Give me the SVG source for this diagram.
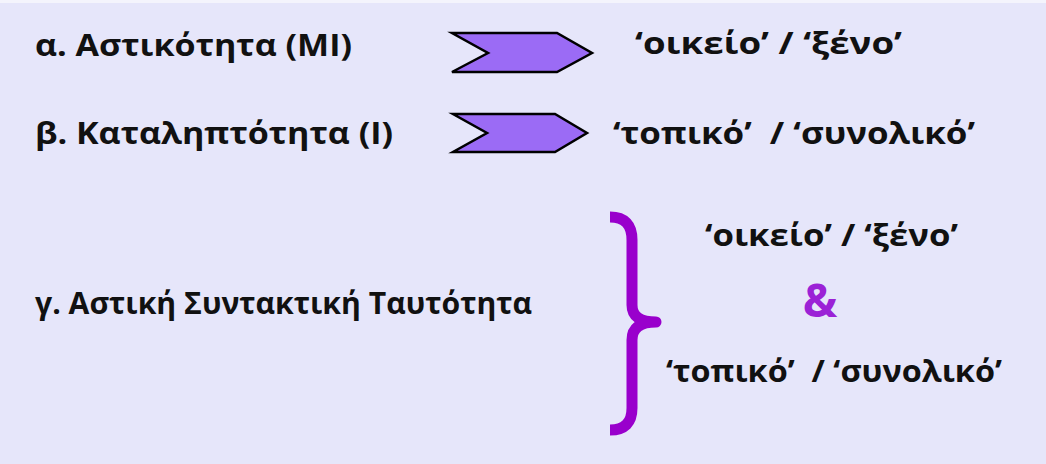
<svg xmlns="http://www.w3.org/2000/svg" width="1046" height="464" viewBox="0 0 1046 464">
<style>
.t{font-family:"Open Sans","Noto Sans","DejaVu Sans",sans-serif;font-weight:bold;font-size:30px;fill:#111}
.chev{fill:#9B6BF5;stroke:#000;stroke-width:2.5;stroke-linejoin:miter}
.brace{fill:none;stroke:#9900CC;stroke-width:11;stroke-linejoin:round;stroke-linecap:butt}
.amp{font-family:"Open Sans","Noto Sans","DejaVu Sans",sans-serif;font-weight:bold;font-size:46px;fill:#9B22D6}
</style>
<rect width="1046" height="464" fill="#E6E6FA"/>
<rect width="1046" height="3" fill="#F4F4FC"/>
<g id="row-a">
<text class="t" x="35" y="56" textLength="317" lengthAdjust="spacingAndGlyphs">α. Αστικότητα (ΜΙ)</text>
<text class="t" x="635" y="54" textLength="267" lengthAdjust="spacingAndGlyphs">‘οικείο’ / ‘ξένο’</text>
</g>
<g id="row-b">
<text class="t" x="35" y="144" textLength="358" lengthAdjust="spacingAndGlyphs">β. Καταληπτότητα (Ι)</text>
<text class="t" x="613" y="144" textLength="362" lengthAdjust="spacingAndGlyphs" xml:space="preserve">‘τοπικό’  / ‘συνολικό’</text>
</g>
<g id="row-c">
<text class="t" x="35" y="314" textLength="497" lengthAdjust="spacingAndGlyphs">γ. Αστική Συντακτική Ταυτότητα</text>
<text class="t" x="705" y="246" textLength="253" lengthAdjust="spacingAndGlyphs">‘οικείο’ / ‘ξένο’</text>
<text class="amp" x="820" y="317" text-anchor="middle">&amp;</text>
<text class="t" x="666" y="382" textLength="336" lengthAdjust="spacingAndGlyphs" xml:space="preserve">‘τοπικό’  / ‘συνολικό’</text>
</g>
<g id="connectors">
<polygon class="chev" points="452,33 557,33 592,53 557,72 452,72 488,53"/>
<polygon class="chev" points="453,114 555,114 587,133 555,152 453,152 487,133"/>
<path class="brace" d="M610,217 Q632,217 632,240 L632,305 Q632,322 656,322 Q632,322 632,340 L632,408 Q632,430 610,430"/>
</g>
</svg>
